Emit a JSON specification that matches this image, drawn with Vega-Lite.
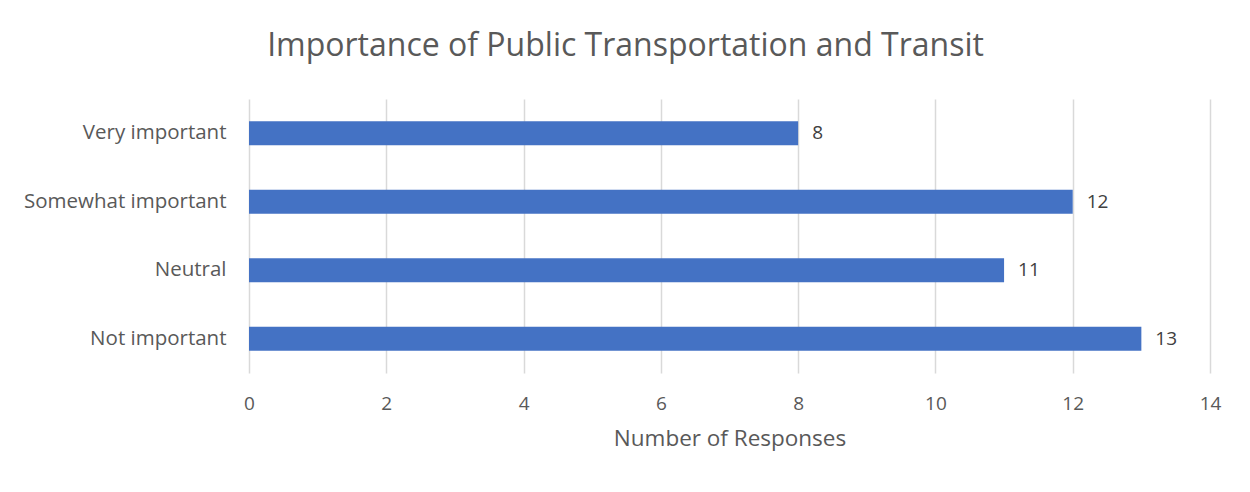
{
  "$schema": "https://vega.github.io/schema/vega-lite/v6.json",
  "autosize": {"type": "none"},
  "width": 961,
  "height": 274,
  "padding": {"left": 249, "top": 99, "right": 40, "bottom": 119},
  "background": "white",
  "title": {
    "text": "Importance of Public Transportation and Transit",
    "font": "Open Sans",
    "fontSize": 32,
    "fontWeight": "normal",
    "color": "#595959",
    "anchor": "middle",
    "dx": -104,
    "offset": 36
  },
  "data": {
    "values": [
      {"response": "Very important", "count": 8},
      {"response": "Somewhat important", "count": 12},
      {"response": "Neutral", "count": 11},
      {"response": "Not important", "count": 13}
    ]
  },
  "encoding": {
    "y": {
      "field": "response",
      "type": "nominal",
      "sort": ["Very important", "Somewhat important", "Neutral", "Not important"],
      "scale": {"paddingInner": 0.65, "paddingOuter": 0.325},
      "axis": {
        "title": null,
        "domain": false,
        "ticks": false,
        "grid": false,
        "labelFont": "Open Sans",
        "labelFontSize": 20.5,
        "labelColor": "#595959",
        "labelPadding": 23,
        "labelLimit": 400
      }
    },
    "x": {
      "field": "count",
      "type": "quantitative",
      "scale": {"domain": [0, 14]},
      "axis": {
        "values": [0, 2, 4, 6, 8, 10, 12, 14],
        "title": "Number of Responses",
        "titleFont": "Open Sans",
        "titleFontSize": 22.5,
        "titleFontWeight": "normal",
        "titleColor": "#595959",
        "titlePadding": 14,
        "labelFont": "Open Sans",
        "labelFontSize": 19,
        "labelColor": "#595959",
        "labelPadding": 21,
        "labelFlush": false,
        "domain": false,
        "ticks": false,
        "grid": true,
        "gridColor": "#d9d9d9",
        "gridWidth": 1.5
      }
    }
  },
  "layer": [
    {"mark": {"type": "bar", "color": "#4472C4"}},
    {
      "mark": {"type": "text", "align": "left", "dx": 14, "font": "Open Sans", "fontSize": 19, "color": "#404040"},
      "encoding": {"text": {"field": "count", "type": "quantitative"}}
    }
  ],
  "config": {"view": {"stroke": null}}
}
